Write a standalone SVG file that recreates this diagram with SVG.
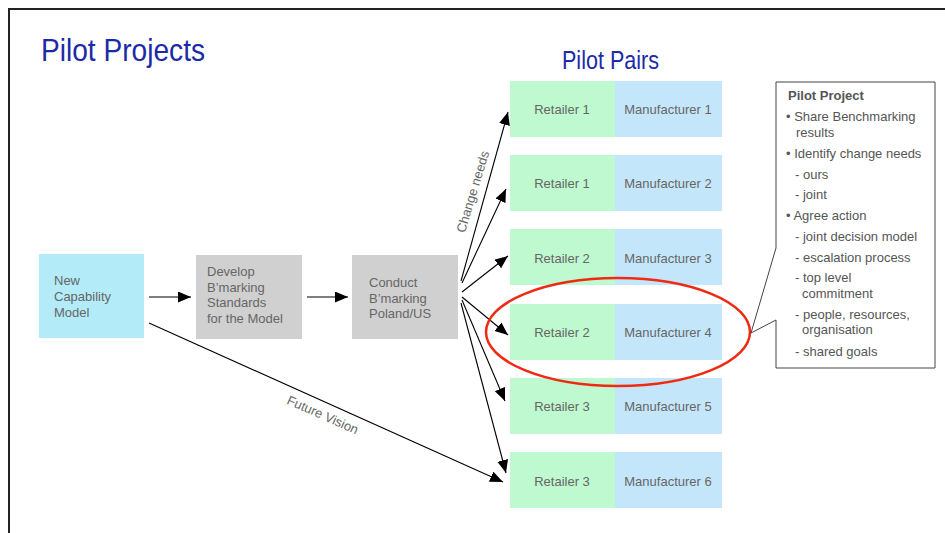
<svg xmlns="http://www.w3.org/2000/svg" width="945" height="533" viewBox="0 0 945 533">
  <style>
    .title { font-family: "Liberation Sans Narrow", "Liberation Sans", Arial, sans-serif; fill: #1a2aa8; }
    .lbl { font-family: "Liberation Sans", Arial, sans-serif; font-size: 13px; fill: #666; }
    .note { font-family: "Liberation Sans", Arial, sans-serif; font-size: 13px; fill: #555; }
    .ret { fill: #bff9cf; }
    .man { fill: #c4e6fb; }
    .step { fill: #d0d0d0; }
    .cap { fill: #b3ecf8; }
    .arrow { stroke: #000; stroke-width: 1.1; fill: none; marker-end: url(#head); }
  </style>
  <defs>
    <marker id="head" markerUnits="userSpaceOnUse" markerWidth="14" markerHeight="12" refX="13" refY="5.5" orient="auto">
      <path d="M0,0 L13,5.5 L0,11 Z" fill="#000"/>
    </marker>
  </defs>

  <rect width="945" height="533" fill="#fff"/>
  <!-- slide frame -->
  <path d="M9,533 V9 H945" fill="none" stroke="#222" stroke-width="2"/>

  <text class="title" x="41" y="61" font-size="32" textLength="164" lengthAdjust="spacingAndGlyphs">Pilot Projects</text>
  <text class="title" x="562" y="69" font-size="26" textLength="97" lengthAdjust="spacingAndGlyphs">Pilot Pairs</text>

  <!-- process steps -->
  <g id="capability-model">
    <rect class="cap" x="39" y="254" width="105" height="84"/>
    <text class="lbl" x="54" y="285">New</text>
    <text class="lbl" x="54" y="301">Capability</text>
    <text class="lbl" x="54" y="317">Model</text>
  </g>
  <g id="develop-standards">
    <rect class="step" x="196" y="255" width="106" height="84"/>
    <text class="lbl" x="207" y="276">Develop</text>
    <text class="lbl" x="207" y="292">B’marking</text>
    <text class="lbl" x="207" y="307">Standards</text>
    <text class="lbl" x="207" y="323">for the Model</text>
  </g>
  <g id="conduct-benchmarking">
    <rect class="step" x="352" y="255" width="106" height="84"/>
    <text class="lbl" x="369" y="287">Conduct</text>
    <text class="lbl" x="369" y="303">B’marking</text>
    <text class="lbl" x="369" y="318">Poland/US</text>
  </g>

  <!-- pilot pairs -->
  <g id="pair-1">
    <rect class="ret" x="510" y="81" width="105" height="56"/>
    <rect class="man" x="615" y="81" width="107" height="56"/>
    <text class="lbl" x="562" y="114" text-anchor="middle">Retailer 1</text>
    <text class="lbl" x="668" y="114" text-anchor="middle">Manufacturer 1</text>
  </g>
  <g id="pair-2">
    <rect class="ret" x="510" y="155" width="105" height="56"/>
    <rect class="man" x="615" y="155" width="107" height="56"/>
    <text class="lbl" x="562" y="188" text-anchor="middle">Retailer 1</text>
    <text class="lbl" x="668" y="188" text-anchor="middle">Manufacturer 2</text>
  </g>
  <g id="pair-3">
    <rect class="ret" x="510" y="229" width="105" height="56"/>
    <rect class="man" x="615" y="229" width="107" height="56"/>
    <text class="lbl" x="562" y="263" text-anchor="middle">Retailer 2</text>
    <text class="lbl" x="668" y="263" text-anchor="middle">Manufacturer 3</text>
  </g>
  <g id="pair-4">
    <rect class="ret" x="510" y="304" width="105" height="56"/>
    <rect class="man" x="615" y="304" width="107" height="56"/>
    <text class="lbl" x="562" y="337" text-anchor="middle">Retailer 2</text>
    <text class="lbl" x="668" y="337" text-anchor="middle">Manufacturer 4</text>
  </g>
  <g id="pair-5">
    <rect class="ret" x="510" y="378" width="105" height="56"/>
    <rect class="man" x="615" y="378" width="107" height="56"/>
    <text class="lbl" x="562" y="411" text-anchor="middle">Retailer 3</text>
    <text class="lbl" x="668" y="411" text-anchor="middle">Manufacturer 5</text>
  </g>
  <g id="pair-6">
    <rect class="ret" x="510" y="452" width="105" height="56"/>
    <rect class="man" x="615" y="452" width="107" height="56"/>
    <text class="lbl" x="562" y="486" text-anchor="middle">Retailer 3</text>
    <text class="lbl" x="668" y="486" text-anchor="middle">Manufacturer 6</text>
  </g>

  <!-- connectors -->
  <g id="connectors">
    <line class="arrow" x1="149" y1="297" x2="191" y2="297"/>
    <line class="arrow" x1="307" y1="297" x2="348" y2="297"/>
    <line class="arrow" x1="461" y1="281" x2="508" y2="112"/>
    <line class="arrow" x1="462" y1="283" x2="506" y2="189"/>
    <line class="arrow" x1="462" y1="292" x2="508" y2="256"/>
    <line class="arrow" x1="462" y1="297" x2="508" y2="335"/>
    <line class="arrow" x1="462" y1="300" x2="505" y2="401"/>
    <line class="arrow" x1="461" y1="303" x2="506" y2="473"/>
    <line class="arrow" x1="149" y1="323" x2="503" y2="482"/>
    <text class="lbl" x="477" y="193" text-anchor="middle" transform="rotate(-73 477 193)">Change needs</text>
    <text class="lbl" x="321" y="419" text-anchor="middle" transform="rotate(24 321 419)">Future Vision</text>
  </g>

  <!-- highlighted pair -->
  <ellipse cx="618" cy="332" rx="132" ry="54" fill="none" stroke="#f02a12" stroke-width="2.5"/>

  <!-- callout -->
  <g id="pilot-project-callout">
    <path d="M776,82 H935 V368 H776 V320 L751,333 L776,248 Z" fill="#fff" stroke="#444" stroke-width="1"/>
    <text class="note" x="788" y="100" font-weight="bold">Pilot Project</text>
    <text class="note" x="786" y="121">• Share Benchmarking</text>
    <text class="note" x="796" y="137">results</text>
    <text class="note" x="786" y="158">• Identify change needs</text>
    <text class="note" x="795" y="179">- ours</text>
    <text class="note" x="795" y="199">- joint</text>
    <text class="note" x="786" y="220">• Agree action</text>
    <text class="note" x="795" y="241">- joint decision model</text>
    <text class="note" x="795" y="262">- escalation process</text>
    <text class="note" x="795" y="282">- top level</text>
    <text class="note" x="802" y="298">commitment</text>
    <text class="note" x="795" y="319">- people, resources,</text>
    <text class="note" x="802" y="334">organisation</text>
    <text class="note" x="795" y="356">- shared goals</text>
  </g>
</svg>
